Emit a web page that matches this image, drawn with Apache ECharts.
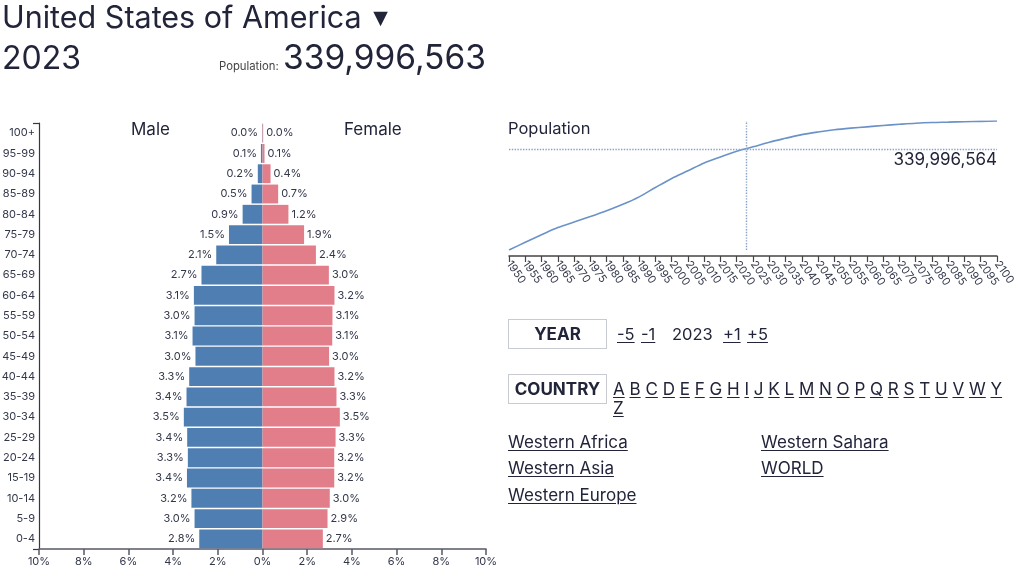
<!DOCTYPE html>
<html>
<head>
<meta charset="utf-8">
<script src="https://cdn.jsdelivr.net/npm/echarts@6/dist/echarts.min.js"></script>
<style>
  html, body { margin: 0; padding: 0; background: #fff; }
  body { width: 1024px; height: 578px; position: relative; overflow: hidden; font-family: Inter, "Noto Sans", sans-serif; color: #22253a; }
  #chart { position: absolute; left: 0; top: 0; width: 1024px; height: 578px; }
  .t { position: absolute; white-space: nowrap; }
  .u { text-decoration: underline; text-decoration-thickness: 1px; text-underline-offset: 2px; }
  .box { position: absolute; box-sizing: border-box; border: 1px solid #c9cbd2; width: 99px; height: 30px; line-height: 28px; text-align: center; font-weight: 700; font-size: 17px; }
</style>
</head>
<body>
<div id="chart"></div>
<div class="t" style="left:2px;top:2px;font-size:30.5px;line-height:30px;">United States of America <span style="font-family:'DejaVu Sans';font-size:19px;position:relative;top:-4px;left:3px;">▼</span></div>
<div class="t" style="left:2px;top:42px;font-size:32px;line-height:32px;" id="yearTxt"></div>
<div class="t" style="left:219px;top:61px;font-size:11.3px;line-height:11px;color:#444;">Population:</div>
<div class="t" style="left:283px;top:41px;font-size:33.5px;line-height:33px;" id="popTxt"></div>

<div class="box" style="left:508px;top:319px;">YEAR</div>
<div class="t u" style="left:617px;top:326px;font-size:16.5px;line-height:16px;">-5</div>
<div class="t u" style="left:641px;top:326px;font-size:16.5px;line-height:16px;">-1</div>
<div class="t" style="left:672px;top:326px;font-size:16.5px;line-height:16px;" id="yearSmall"></div>
<div class="t u" style="left:723px;top:326px;font-size:16.5px;line-height:16px;">+1</div>
<div class="t u" style="left:747px;top:326px;font-size:16.5px;line-height:16px;">+5</div>

<div class="box" style="left:508px;top:374px;">COUNTRY</div>
<div id="letters" style="position:absolute;left:613px;top:380px;width:397px;font-size:17px;line-height:19px;"></div>

<div class="t u" style="left:508px;top:434px;font-size:17px;line-height:17px;">Western Africa</div>
<div class="t u" style="left:508px;top:460px;font-size:17px;line-height:17px;">Western Asia</div>
<div class="t u" style="left:508px;top:487px;font-size:17px;line-height:17px;">Western Europe</div>
<div class="t u" style="left:761px;top:434px;font-size:17px;line-height:17px;">Western Sahara</div>
<div class="t u" style="left:761px;top:460px;font-size:17px;line-height:17px;">WORLD</div>

<script>
// ---- Data ----
const currentYear = 2023;
const headerPopulation = 339996563;
const markerPopulation = 339996564;

const ageGroups = ['0-4','5-9','10-14','15-19','20-24','25-29','30-34','35-39','40-44','45-49','50-54','55-59','60-64','65-69','70-74','75-79','80-84','85-89','90-94','95-99','100+'];
const malePct   = [2.83,3.04,3.18,3.38,3.34,3.37,3.52,3.40,3.28,3.00,3.13,3.04,3.07,2.73,2.07,1.50,0.89,0.49,0.21,0.07,0.02];
const femalePct = [2.70,2.91,3.01,3.21,3.21,3.27,3.46,3.31,3.22,2.98,3.12,3.13,3.22,2.97,2.39,1.86,1.16,0.70,0.36,0.09,0.03];

const years = [1950,1955,1960,1965,1970,1975,1980,1985,1990,1995,2000,2005,2010,2015,2020,2025,2030,2035,2040,2045,2050,2055,2060,2065,2070,2075,2080,2085,2090,2095,2100];
const populationM = [148.3,162.9,177.2,191.0,201.6,212.1,223.2,235.3,249.5,267.3,284.6,299.2,314.1,325.6,336.5,344.8,353.6,361.0,368.1,373.1,377.3,380.4,382.9,385.4,387.7,389.8,391.2,391.9,392.7,393.3,394.0];

const countryLetters = ['A','B','C','D','E','F','G','H','I','J','K','L','M','N','O','P','Q','R','S','T','U','V','W','Y','Z'];

// ---- Header / controls text ----
const fmt = n => n.toLocaleString('en-US');
document.getElementById('yearTxt').textContent = currentYear;
document.getElementById('yearSmall').textContent = currentYear;
document.getElementById('popTxt').textContent = fmt(headerPopulation);
document.getElementById('letters').innerHTML = countryLetters.map(l => '<span class="u">' + l + '</span>').join(' ');

// ---- Chart ----
const chart = echarts.init(document.getElementById('chart'), null, { renderer: 'canvas' });
const textColor = '#33374a';
const maleColor = '#4f7fb2';
const femaleColor = '#e27e8a';

const option = {
  animation: false,
  textStyle: { fontFamily: 'Inter' },
  grid: [
    { left: 39, right: 538, top: 123, bottom: 29, containLabel: false, outerBoundsMode: 'none' },
    { left: 509, right: 27, top: 121, bottom: 328, containLabel: false, outerBoundsMode: 'none' }
  ],
  xAxis: [
    {
      gridIndex: 0, type: 'value', position: 'bottom', min: -10, max: 10, interval: 2,
      axisLine: { show: true, onZero: false, lineStyle: { color: '#555a66', width: 1.5 } },
      axisTick: { show: true, length: 6, lineStyle: { color: '#555a66', width: 1.5 } },
      axisLabel: { fontSize: 11, color: textColor, margin: 7, formatter: v => Math.abs(v) + '%' },
      splitLine: { show: false }
    },
    {
      // value axis used for positioning the population line and marker
      gridIndex: 1, type: 'value', position: 'bottom', min: 1950, max: 2100, interval: 5, offset: 6,
      axisLine: { show: false }, axisTick: { show: false }, axisLabel: { show: false },
      splitLine: { show: false }
    },
    {
      // labelled year axis (same range as above)
      gridIndex: 1, type: 'category', position: 'bottom', data: years.map(String), boundaryGap: false, offset: 6,
      axisLine: { show: true, onZero: false, lineStyle: { color: '#444', width: 1.5 } },
      axisTick: { show: true, interval: 0, length: 6, lineStyle: { color: '#444', width: 1.2 } },
      axisLabel: { interval: 0, fontSize: 11, color: textColor, rotate: -55, margin: 6, hideOverlap: false }
    }
  ],
  yAxis: [
    {
      gridIndex: 0, type: 'category', position: 'left', data: ageGroups,
      axisLine: { show: false },
      axisTick: { show: false },
      axisLabel: { fontSize: 11, color: textColor, margin: 4, interval: 0 }
    },
    {
      gridIndex: 1, type: 'value', min: 148.3, max: 394.0, show: false,
      splitLine: { show: false }
    },
    {
      // domain line of the age axis with outer ticks at both ends
      gridIndex: 0, type: 'value', position: 'left', min: 0, max: ageGroups.length, interval: ageGroups.length,
      axisLine: { show: true, onZero: false, lineStyle: { color: '#33374a', width: 1.2 } },
      axisTick: { show: true, length: 6, lineStyle: { color: '#33374a', width: 1.2 } },
      axisLabel: { show: false }, splitLine: { show: false }
    }
  ],
  series: [
    {
      name: 'Male', type: 'bar', xAxisIndex: 0, yAxisIndex: 0,
      data: malePct.map(v => -v), barGap: '-100%', barCategoryGap: '7%',
      itemStyle: { color: maleColor },
      label: { show: true, position: 'left', distance: 4, fontSize: 11, color: textColor, formatter: p => Math.abs(p.value).toFixed(1) + '%' }
    },
    {
      name: 'Female', type: 'bar', xAxisIndex: 0, yAxisIndex: 0,
      data: femalePct, barGap: '-100%', barCategoryGap: '7%',
      itemStyle: { color: femaleColor },
      label: { show: true, position: 'right', distance: 3, fontSize: 11, color: textColor, formatter: p => p.value.toFixed(1) + '%' }
    },
    {
      name: 'Population', type: 'line', xAxisIndex: 1, yAxisIndex: 1,
      data: years.map((y, i) => [y, populationM[i]]),
      showSymbol: false, smooth: 0.3,
      lineStyle: { color: '#6a92c9', width: 1.6 },
      markLine: {
        silent: true, symbol: 'none',
        lineStyle: { color: '#88a2c6', type: 'dotted', width: 1.4 },
        data: [
          { xAxis: currentYear, label: { show: false } },
          { yAxis: markerPopulation / 1e6, label: { show: true, position: 'insideEndBottom', distance: [0, 2], fontSize: 17, color: '#22253a', formatter: () => fmt(markerPopulation) } }
        ]
      }
    }
  ],
  graphic: [
    { type: 'text', left: 131, top: 121, style: { text: 'Male', fontSize: 17, fill: '#22253a', fontFamily: 'Inter' } },
    { type: 'text', left: 344, top: 121, style: { text: 'Female', fontSize: 17, fill: '#22253a', fontFamily: 'Inter' } },
    { type: 'text', left: 508, top: 121, style: { text: 'Population', fontSize: 16.5, fill: '#22253a', fontFamily: 'Inter' } }
  ]
};
chart.setOption(option);
</script>
</body>
</html>
